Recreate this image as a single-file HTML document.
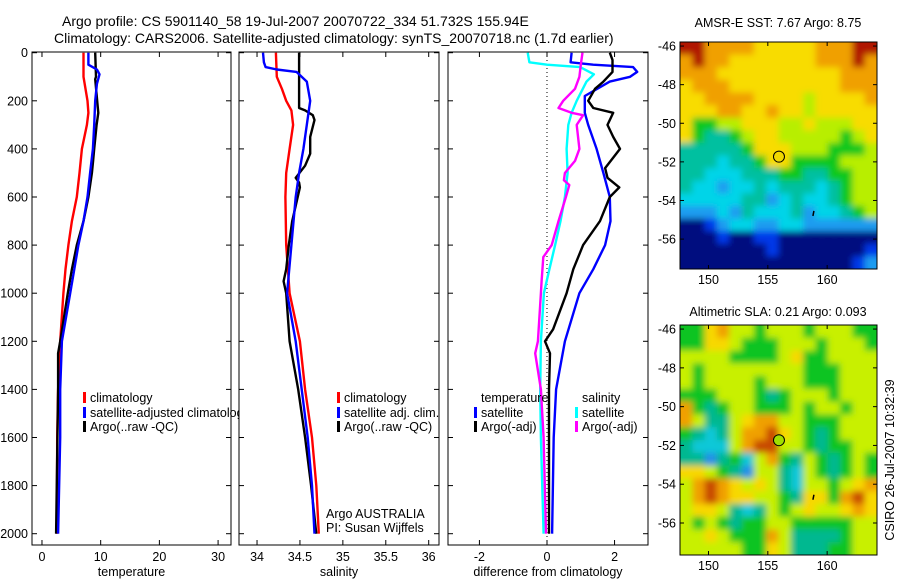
<!DOCTYPE html>
<html><head><meta charset="utf-8"><style>
html,body{margin:0;padding:0;background:#fff;}
svg{display:block;font-family:"Liberation Sans",sans-serif;}
</style></head><body>
<svg id="fig" width="900" height="580" xmlns="http://www.w3.org/2000/svg">
<defs>
<clipPath id="cp1"><rect x="0" y="0" width="239" height="580"/></clipPath>
<clipPath id="cpMapA"><rect x="680" y="42" width="197" height="227"/></clipPath>
<clipPath id="cpMapB"><rect x="680" y="325" width="197" height="230"/></clipPath>
<filter id="soft" x="-10%" y="-10%" width="120%" height="120%"><feGaussianBlur stdDeviation="3.2"/></filter>
</defs>
<g id="titles" font-size="14" fill="#000">
<text x="62" y="26">Argo profile: CS 5901140_58 19-Jul-2007 20070722_334 51.732S 155.94E</text>
<text x="54" y="43">Climatology: CARS2006. Satellite-adjusted climatology: synTS_20070718.nc (1.7d earlier)</text>
<text x="778" y="27" text-anchor="middle" font-size="12.5">AMSR-E SST: 7.67 Argo: 8.75</text>
<text x="778" y="316" text-anchor="middle" font-size="12.5">Altimetric SLA: 0.21 Argo: 0.093</text>
<text transform="translate(894,460) rotate(-90)" text-anchor="middle" font-size="12.5">CSIRO 26-Jul-2007 10:32:39</text>
</g>
<g id="plots"></g>
</svg>
<script>
// ---- depth axis ----
const depthTicks = [0,200,400,600,800,1000,1200,1400,1600,1800,2000];
// ---- temperature panel ----
const tempTicks = [0,10,20,30];
const tClimD = [0,100,200,250,300,400,500,600,700,800,900,1000,1200,1400,1600,2000];
const tClimV = [7.07,7.07,7.75,7.9,7.65,6.8,6.4,5.94,5.1,4.5,4.0,3.65,3.1,2.75,2.6,2.55];
const tSatD = [0,50,70,90,130,200,300,400,500,600,700,800,900,1000,1200,1400,1600,2000];
const tSatV = [7.9,7.9,9.35,9.8,9.35,9.07,8.9,8.67,8.2,7.75,7.07,6.2,5.5,4.8,3.4,3.1,3.1,2.75];
const tArgoD = [0,100,110,250,300,400,450,500,600,700,800,900,1000,1200,1250,1400,2000];
const tArgoV = [9.07,9.2,9.07,9.6,9.3,8.9,8.7,8.5,7.9,7.07,5.94,5.1,4.4,3.1,2.75,2.75,2.4];
// ---- salinity panel ----
const salTicks = [34,34.5,35,35.5,36];
const salTickLabels = ["34","34.5","35","35.5","36"];
const sClimD = [0,100,150,200,240,300,400,500,600,800,1000,1200,1400,1600,1800,2000];
const sClimV = [34.22,34.23,34.29,34.34,34.40,34.42,34.38,34.34,34.33,34.34,34.38,34.5,34.56,34.64,34.69,34.72];
const sSatD = [0,40,60,70,80,120,200,300,400,500,600,800,1000,1200,1400,1600,1800,2000];
const sSatV = [34.07,34.08,34.1,34.23,34.46,34.58,34.62,34.58,34.54,34.49,34.45,34.40,34.35,34.45,34.52,34.59,34.64,34.67];
const sArgoD = [0,230,240,260,280,350,420,470,520,540,560,700,800,900,950,1000,1200,1400,1600,1800,2000];
const sArgoV = [34.49,34.49,34.56,34.65,34.67,34.62,34.62,34.56,34.45,34.49,34.50,34.41,34.37,34.34,34.31,34.34,34.38,34.48,34.56,34.63,34.69];
// ---- difference panel ----
const diffTicks = [-2,0,2];
const dTSatD = [0,40,50,60,80,100,120,180,250,300,400,500,600,700,800,900,1000,1200,1400,1600,2000];
const dTSatV = [0.73,0.7,1.37,2.55,2.67,2.46,1.86,1.12,1.12,1.22,1.47,1.67,1.86,1.88,1.72,1.37,0.96,0.53,0.27,0.2,0.15];
const dTArgoD = [0,30,80,120,150,200,230,250,300,350,400,480,520,560,600,700,800,900,1000,1150,1200,1250,1400,2000];
const dTArgoV = [1.86,1.94,1.94,1.67,1.42,1.22,1.37,1.96,1.79,1.96,2.16,1.72,1.79,2.14,1.86,1.57,1.07,0.78,0.58,0.18,-0.06,0.09,0.06,0.06];
const dSSatD = [0,40,50,60,90,120,200,250,300,400,500,600,700,800,900,1000,1200,1400,1600,2000];
const dSSatV = [-0.57,-0.52,0,0.98,1.39,1.17,0.88,0.73,0.63,0.58,0.61,0.53,0.4,0.24,0.07,-0.09,-0.18,-0.2,-0.18,-0.1];
const dSArgoD = [0,50,100,150,200,230,250,260,300,400,450,500,530,550,600,700,800,850,950,1000,1200,1250,1400,1600,2000];
const dSArgoV = [1.05,1.0,0.96,0.83,0.48,0.34,0.73,1.07,0.88,0.96,0.83,0.53,0.5,0.66,0.56,0.34,0.14,-0.11,-0.16,-0.18,-0.27,-0.35,-0.18,-0.1,-0.03];
// ---- maps ----
const mapLatTicks = [-46,-48,-50,-52,-54,-56];
const mapLonTicks = [150,155,160];
const argoLon = 155.94, argoLat = -51.73;
const sstGrid = [
"9988887777788899","8988777777788898","8887777777777888","7888777777777888",
"7788887777677778","7778877877677777","7556677766766677","7544567766666567",
"4444457776665556","4443445775555666","4433344455445566","4332334344434566",
"3333344234334566","2223243334233456","0012332233222222","0001001100000000",
"0000000100000001","0000000000000012"];
const slaGrid = [
"5578665666566655","5577655566656665","6666555567556666","6566666666555666",
"6566665666555666","5556665456665666","8545665556566566","8644678866555666",
"5434688976545666","4333689966545566","4424536854654565","7765426643654565",
"6898767643665678","6898776654775897","6776434656766787","6565455665555566",
"6676555864444566","6666655764445566"];
const sstColors = ["#00087f","#0038e8","#1c9cf0","#00d4e8","#00c0a0","#10c81c","#b8ee00","#f8dc00","#f0a000","#b01800"];
const slaColors = ["#00087f","#1060e0","#2090e8","#10c8d8","#00b890","#10c420","#c8f000","#f8d800","#f0a000","#c84800"];

const NS="http://www.w3.org/2000/svg";
const root=document.getElementById('plots');
function mk(tag,attrs,parent){const e=document.createElementNS(NS,tag);for(const k in attrs)e.setAttribute(k,attrs[k]);(parent||root).appendChild(e);return e;}
const Y0=52.7, Y1=533.7, PT=52, PB=545;
function yScale(d){return Y0+(Y1-Y0)*d/2000;}
function xScaleFn(x0,x1,d0,d1){return v=>x0+(v-d0)*(x1-x0)/(d1-d0);}

function panel(name,x0,x1,d0,d1,ticks,labels,xlabel,showY){
  const g=mk('g',{});
  
  
  const xs=xScaleFn(x0,x1,d0,d1);
  const box=mk('rect',{x:x0,y:PT,width:x1-x0,height:PB-PT,fill:'#fff',stroke:'#000','stroke-width':1},g);
  
  
  ticks.forEach((t,i)=>{
    const x=xs(t);
    mk('line',{x1:x,x2:x,y1:PB,y2:PB-5,stroke:'#000'},g);
    mk('line',{x1:x,x2:x,y1:PT,y2:PT+5,stroke:'#000'},g);
    const tl=mk('text',{x:x,y:PB+16,'text-anchor':'middle','font-size':12.5},g);
    tl.textContent=labels[i];
    
    
  });
  depthTicks.forEach(d=>{
    const y=yScale(d);
    mk('line',{x1:x0,x2:x0+5,y1:y,y2:y,stroke:'#000'},g);
    mk('line',{x1:x1,x2:x1-5,y1:y,y2:y,stroke:'#000'},g);
    if(showY){
      const tl=mk('text',{x:x0-4,y:y+4.5,'text-anchor':'end','font-size':12.5},g);
      tl.textContent=String(d);
      
      
    }
  });
  const xl=mk('text',{x:(x0+x1)/2,y:PB+31,'text-anchor':'middle','font-size':12.5},g);
  xl.textContent=xlabel;
  
  
  return {g,xs};
}
function series(p,ds,vs,color,name,w){
  const pts=ds.map((d,i)=>p.xs(vs[i]).toFixed(1)+','+yScale(d).toFixed(1)).join(' ');
  const l=mk('polyline',{points:pts,fill:'none',stroke:color,'stroke-width':w||2.4,'stroke-linejoin':'round'},p.g);
  
  
}
function legendItem(g,x,y,color,label,name){
  if(color) mk('rect',{x:x,y:y-10,width:3,height:11,fill:color},g);
  const t=mk('text',{x:x+7,y:y,'font-size':12.5},g);
  t.textContent=label;
  
  
}

// temperature panel
const p1=panel('temperature-panel',32,231,-1.7,32.2,tempTicks,tempTicks.map(String),'temperature',true);
series(p1,tClimD,tClimV,'#f00','temp-climatology-line');
series(p1,tArgoD,tArgoV,'#000','temp-argo-line');
series(p1,tSatD,tSatV,'#00f','temp-satellite-line');
const lg1=mk('g',{'clip-path':'url(#cp1)'},p1.g);


legendItem(lg1,83,402,'#f00','climatology','legend-climatology');
legendItem(lg1,83,417,'#00f','satellite-adjusted climatology','legend-satellite');
legendItem(lg1,83,431,'#000','Argo(..raw -QC)','legend-argo');

// salinity panel
const p2=panel('salinity-panel',239,439,33.79,36.12,salTicks,salTickLabels,'salinity',false);
series(p2,sClimD,sClimV,'#f00','sal-climatology-line');
series(p2,sArgoD,sArgoV,'#000','sal-argo-line');
series(p2,sSatD,sSatV,'#00f','sal-satellite-line');
const lg2=mk('g',{},p2.g);


legendItem(lg2,337,402,'#f00','climatology','legend-climatology');
legendItem(lg2,337,417,'#00f','satellite adj. clim.','legend-satellite');
legendItem(lg2,337,431,'#000','Argo(..raw -QC)','legend-argo');
legendItem(lg2,319,518,null,'Argo AUSTRALIA','argo-australia-label');
legendItem(lg2,319,532,null,'PI: Susan Wijffels','pi-label');

// difference panel
const p3=panel('difference-panel',448,648,-2.93,2.99,diffTicks,diffTicks.map(String),'difference from climatology',false);
mk('line',{x1:p3.xs(0),x2:p3.xs(0),y1:PT,y2:PB,stroke:'#000','stroke-dasharray':'1,3','stroke-width':1},p3.g);
series(p3,dTSatD,dTSatV,'#00f','diff-temp-satellite-line');
series(p3,dTArgoD,dTArgoV,'#000','diff-temp-argo-line');
series(p3,dSSatD,dSSatV,'#0ff','diff-sal-satellite-line');
series(p3,dSArgoD,dSArgoV,'#f0f','diff-sal-argo-line');
const lg3=mk('g',{},p3.g);


legendItem(lg3,474,402,null,'temperature','legend-temperature-header');
legendItem(lg3,474,417,'#00f','satellite','legend-temp-satellite');
legendItem(lg3,474,431,'#000','Argo(-adj)','legend-temp-argo');
legendItem(lg3,575,402,null,'salinity','legend-salinity-header');
legendItem(lg3,575,417,'#0ff','satellite','legend-sal-satellite');
legendItem(lg3,575,431,'#f0f','Argo(-adj)','legend-sal-argo');

// maps
function map(name,grid,colors,top,bottom,latTop,latBot,dotColor,clipId){
  const g=mk('g',{});
  
  
  const x0=680,x1=877,lon0=147.6,lon1=164.2;
  const lx=v=>x0+(v-lon0)*(x1-x0)/(lon1-lon0);
  const ly=v=>top+(latTop-v)*(bottom-top)/(latTop-latBot);
  const rows=grid.length, cols=grid[0].length;
  const dLat=(latTop-latBot)/rows, dLon=(lon1-lon0)/cols;
  const clipG=mk('g',{'clip-path':'url(#'+clipId+')'},g);
  const cells=mk('g',{filter:'url(#soft)'},clipG);
  
  
  const ext=14;
  for(let r=0;r<rows;r++)for(let c=0;c<cols;c++){
    const la=latTop-r*dLat, lo=lon0+c*dLon;
    let xa=lx(lo), xb=lx(lo+dLon), ya=ly(la), yb=ly(la-dLat);
    if(c===0)xa-=ext; if(c===cols-1)xb+=ext;
    if(r===0)ya-=ext; if(r===rows-1)yb+=ext;
    const cell=mk('rect',{x:xa.toFixed(2),y:ya.toFixed(2),width:(xb-xa+0.6).toFixed(2),height:(yb-ya+0.6).toFixed(2),fill:colors[+grid[r][c]]},cells);
    
    
  }
  mk('rect',{x:x0,y:top,width:x1-x0,height:bottom-top,fill:'none',stroke:'#000'},g);
  mapLatTicks.forEach(t=>{
    const y=ly(t);
    mk('line',{x1:x0,x2:x0+4,y1:y,y2:y,stroke:'#000'},g);
    mk('line',{x1:x1,x2:x1-4,y1:y,y2:y,stroke:'#000'},g);
    const tl=mk('text',{x:x0-4,y:y+4.5,'text-anchor':'end','font-size':12.5},g);
    tl.textContent=String(t);
    
    
  });
  mapLonTicks.forEach(t=>{
    const x=lx(t);
    mk('line',{x1:x,x2:x,y1:bottom,y2:bottom-4,stroke:'#000'},g);
    mk('line',{x1:x,x2:x,y1:top,y2:top+4,stroke:'#000'},g);
    const tl=mk('text',{x:x,y:bottom+15,'text-anchor':'middle','font-size':12.5},g);
    tl.textContent=String(t);
    
    
  });
  mk('path',{d:`M${lx(158.8)} ${ly(-54.8)} l1 -5`,stroke:'#000','stroke-width':1.5},g);
  const dot=mk('circle',{cx:lx(argoLon),cy:ly(argoLat),r:5.5,fill:dotColor,stroke:'#000','stroke-width':1},g);
  
  
}
map('sst-map',sstGrid,sstColors,42,269,-45.79,-57.55,'#f0d800','cpMapA');
map('sla-map',slaGrid,slaColors,325,555,-45.79,-57.65,'#a0e000','cpMapB');
</script>
</body></html>
